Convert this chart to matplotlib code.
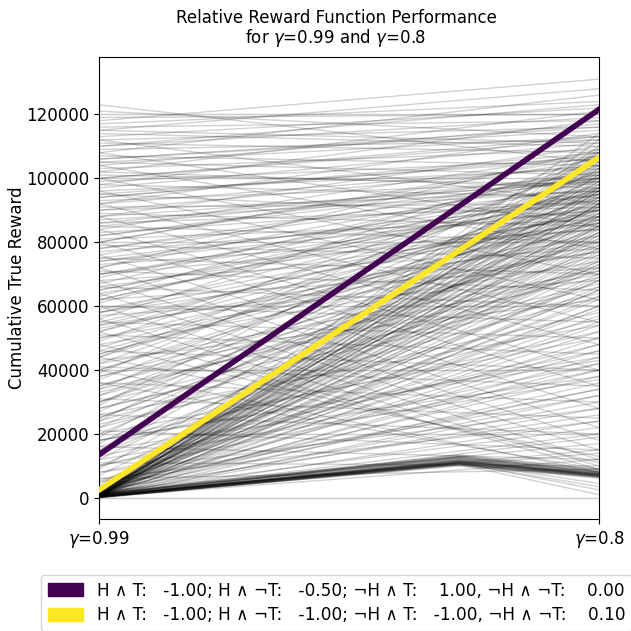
import numpy as np
import matplotlib.pyplot as plt
from matplotlib.patches import Patch

# x positions: gamma=0.99 at 0, gamma=0.8 at 1
# the low cluster also carries an intermediate value drawn at x=0.72
x_low = [0.0, 0.72, 1.0]

# bottom cluster (thousands): left, middle, right
low_left = [0.0, 0.2, 0.4, 0.5, 0.8, 1.0, 1.2, 0.3, 0.6, 0.9, 1.5, 0.1, 0.7, 1.1, 0.4,
            0.2, 1.3, 0.5, 0.8, 1.6, 0.3, 0.6, 0.9, 1.2, 0.4, 0.1, 0.7, 1.0, 0.5, 0.2,
            0.3, 0.6, 0.2, 0.5]
low_mid = [10.5, 11.0, 11.5, 12.0, 10.8, 11.2, 12.5, 10.0, 11.8, 13.0, 12.2, 10.6, 11.4, 13.5, 11.0,
           10.2, 12.8, 11.6, 12.0, 13.2, 10.9, 11.3, 12.4, 12.9, 11.1, 10.4, 11.7, 12.6, 11.5, 10.7,
           10.5, 11.0, 10.8, 11.2]
low_right = [6.5, 7.0, 7.2, 7.5, 6.8, 7.8, 8.0, 6.2, 7.3, 8.5, 7.6, 6.9, 7.1, 9.0, 7.4,
             6.6, 8.2, 7.0, 7.7, 8.8, 6.7, 7.1, 7.9, 8.3, 7.2, 6.4, 7.5, 8.1, 7.3, 6.8,
             1.0, 2.5, 3.5, 4.5]

# lines starting near zero and fanning out (thousands)
fan_left = [0.3, 1.2, 0.6, 2.0, 0.1, 0.9, 1.6, 0.4, 2.5, 0.8, 1.1, 0.2, 1.9, 0.5, 2.8, 0.7, 1.4, 0.3, 2.2, 1.0,
            0.6, 1.7, 0.2, 2.4, 0.9, 1.3, 0.4, 3.0, 0.8, 1.5, 0.1, 2.1, 0.6, 1.2, 0.3, 2.6, 1.0, 0.5, 1.8, 0.7,
            2.3, 0.2, 1.4, 0.9, 2.7, 0.4, 1.1, 0.6, 1.9, 0.3, 2.0, 0.8, 1.5, 0.5, 2.9, 0.1, 1.3, 0.7, 2.4, 1.0,
            0.4, 1.7, 0.6, 2.2, 0.2, 1.0, 0.8, 2.6, 0.5, 1.6, 0.3, 1.2, 0.9, 2.0, 0.7, 1.4, 0.2, 1.8, 0.6, 1.1]
fan_right = [12, 14, 15, 17, 19, 20, 22, 24, 26, 28, 30, 32, 34, 36, 38, 40, 42, 44, 46, 48,
             50, 52, 54, 55, 57, 59, 60, 62, 63, 65, 66, 68, 69, 70, 72, 73, 74, 76, 77, 78,
             79, 80, 81, 82, 83, 84, 85, 86, 87, 88, 89, 90, 91, 92, 93, 94, 95, 96, 97, 98,
             99, 100, 101, 102, 103, 104, 105, 106, 107, 108, 109, 110, 112, 114, 85, 75, 65, 92, 88, 96]

# crossing lines over the whole range (thousands)
mix_left = [123, 121, 119, 118, 117, 116, 115, 114, 113, 112, 111, 110, 109, 108, 107, 106, 105, 104, 103, 102,
            101, 100, 99, 98, 97, 96, 95, 94, 93, 92, 91, 90, 89, 88, 87, 86, 85, 84, 83, 82,
            81, 80, 79, 78, 77, 76, 75, 74, 73, 72, 71, 70, 69, 68, 67, 66, 65, 64, 63, 62,
            61, 60, 59, 58, 57, 56, 55, 54, 53, 52, 51, 50, 49, 48, 47, 46, 45, 44, 43, 42,
            41, 40, 39, 38, 37, 36, 35, 34, 33, 32, 31, 30, 29, 28, 27, 26, 25, 24, 23, 22,
            21, 20, 19, 18, 17, 16, 15, 14, 13, 12, 11, 10, 9, 8, 7, 6, 5, 4, 3.5, 3,
            112, 108, 104, 100, 96, 92, 88, 84, 80, 76, 72, 68, 64, 60, 56, 52, 48, 44, 40, 36,
            110, 102, 94, 86, 78, 70, 62, 54, 46, 38, 30, 22, 14, 106, 90, 74, 58, 42, 26, 10,
            98, 82, 66, 50, 34, 18, 115, 85, 55, 25, 105, 75, 45, 15, 95, 65, 35, 5, 88, 58,
            28, 8, 100, 70, 40, 20, 12, 6, 92, 62, 32, 16, 80, 52, 24, 10, 72, 44, 30, 18]
mix_right = [105, 113, 120, 131, 124, 118, 128, 110, 122, 116, 108, 119, 112, 126, 104, 115, 101, 117, 109, 121,
             98, 113, 106, 94, 111, 103, 88, 107, 99, 114, 92, 104, 85, 110, 96, 101, 80, 108, 93, 100,
             87, 106, 75, 97, 90, 102, 70, 95, 84, 109, 65, 91, 99, 78, 103, 60, 94, 86, 105, 72,
             100, 55, 89, 96, 68, 107, 50, 92, 82, 98, 45, 86, 104, 74, 94, 40, 88, 102, 62, 97,
             35, 90, 106, 80, 95, 30, 84, 100, 72, 93, 25, 87, 108, 66, 96, 20, 82, 103, 58, 91,
             15, 85, 99, 52, 94, 12, 78, 101, 46, 89, 10, 73, 97, 40, 83, 9, 68, 92, 34, 60,
             92, 85, 78, 70, 62, 55, 48, 40, 35, 28, 22, 18, 15, 12, 10, 9, 11, 13, 8, 9,
             123, 97, 108, 91, 100, 84, 95, 77, 88, 70, 81, 63, 74, 116, 96, 90, 80, 71, 54, 48,
             118, 102, 88, 77, 69, 43, 111, 100, 90, 83, 113, 93, 85, 38, 106, 96, 79, 32, 99, 87,
             64, 28, 112, 95, 86, 50, 37, 24, 104, 97, 76, 56, 107, 90, 71, 42, 101, 91, 67, 44]

# highlighted reward functions (left, right)
best_vals = [13500, 121500]
second_vals = [2500, 106500]
labels = ["H \u2227 T:   -1.00; H \u2227 \u00acT:   -0.50; \u00acH \u2227 T:    1.00, \u00acH \u2227 \u00acT:    0.00",
          "H \u2227 T:   -1.00; H \u2227 \u00acT:   -1.00; \u00acH \u2227 T:   -1.00, \u00acH \u2227 \u00acT:    0.10"]
colors = ["#440154", "#fde725"]

fig = plt.figure(figsize=(6.31, 6.31), dpi=100)
ax = fig.add_axes([0.157, 0.1775, 0.792, 0.7325])

for L, M, R in zip(low_left, low_mid, low_right):
    ax.plot(x_low, np.array([L, M, R]) * 1000, color="black", alpha=0.18, lw=1)
for L, R in zip(fan_left + mix_left, fan_right + mix_right):
    ax.plot([0, 1], np.array([L, R]) * 1000, color="black", alpha=0.18, lw=1)

ax.plot([0, 1], best_vals, color=colors[0], lw=4, zorder=5)
ax.plot([0, 1], second_vals, color=colors[1], lw=4, zorder=5)

ax.set_xlim(0, 1)
ax.set_ylim(-6600, 138000)
ax.set_xticks([0, 1])
ax.set_xticklabels([r"$\gamma$=0.99", r"$\gamma$=0.8"], fontsize=12)
ax.set_yticks(np.arange(0, 140000, 20000))
ax.tick_params(axis="y", labelsize=12)
ax.yaxis.grid(True, color="#cccccc", lw=1)
ax.set_axisbelow(True)
ax.set_ylabel("Cumulative True Reward", fontsize=12, labelpad=0)
ax.set_title("Relative Reward Function Performance\nfor $\\gamma$=0.99 and $\\gamma$=0.8",
             fontsize=12, x=0.474, pad=10, linespacing=1.0)

handles = [Patch(color=c) for c in colors]
fig.legend(handles, labels, loc="upper left", bbox_to_anchor=(0.065, 0.089), fontsize=12.2,
           handlelength=2.1, handleheight=0.8, borderaxespad=0, labelspacing=0.38)

fig.savefig("out.png", dpi=100)
